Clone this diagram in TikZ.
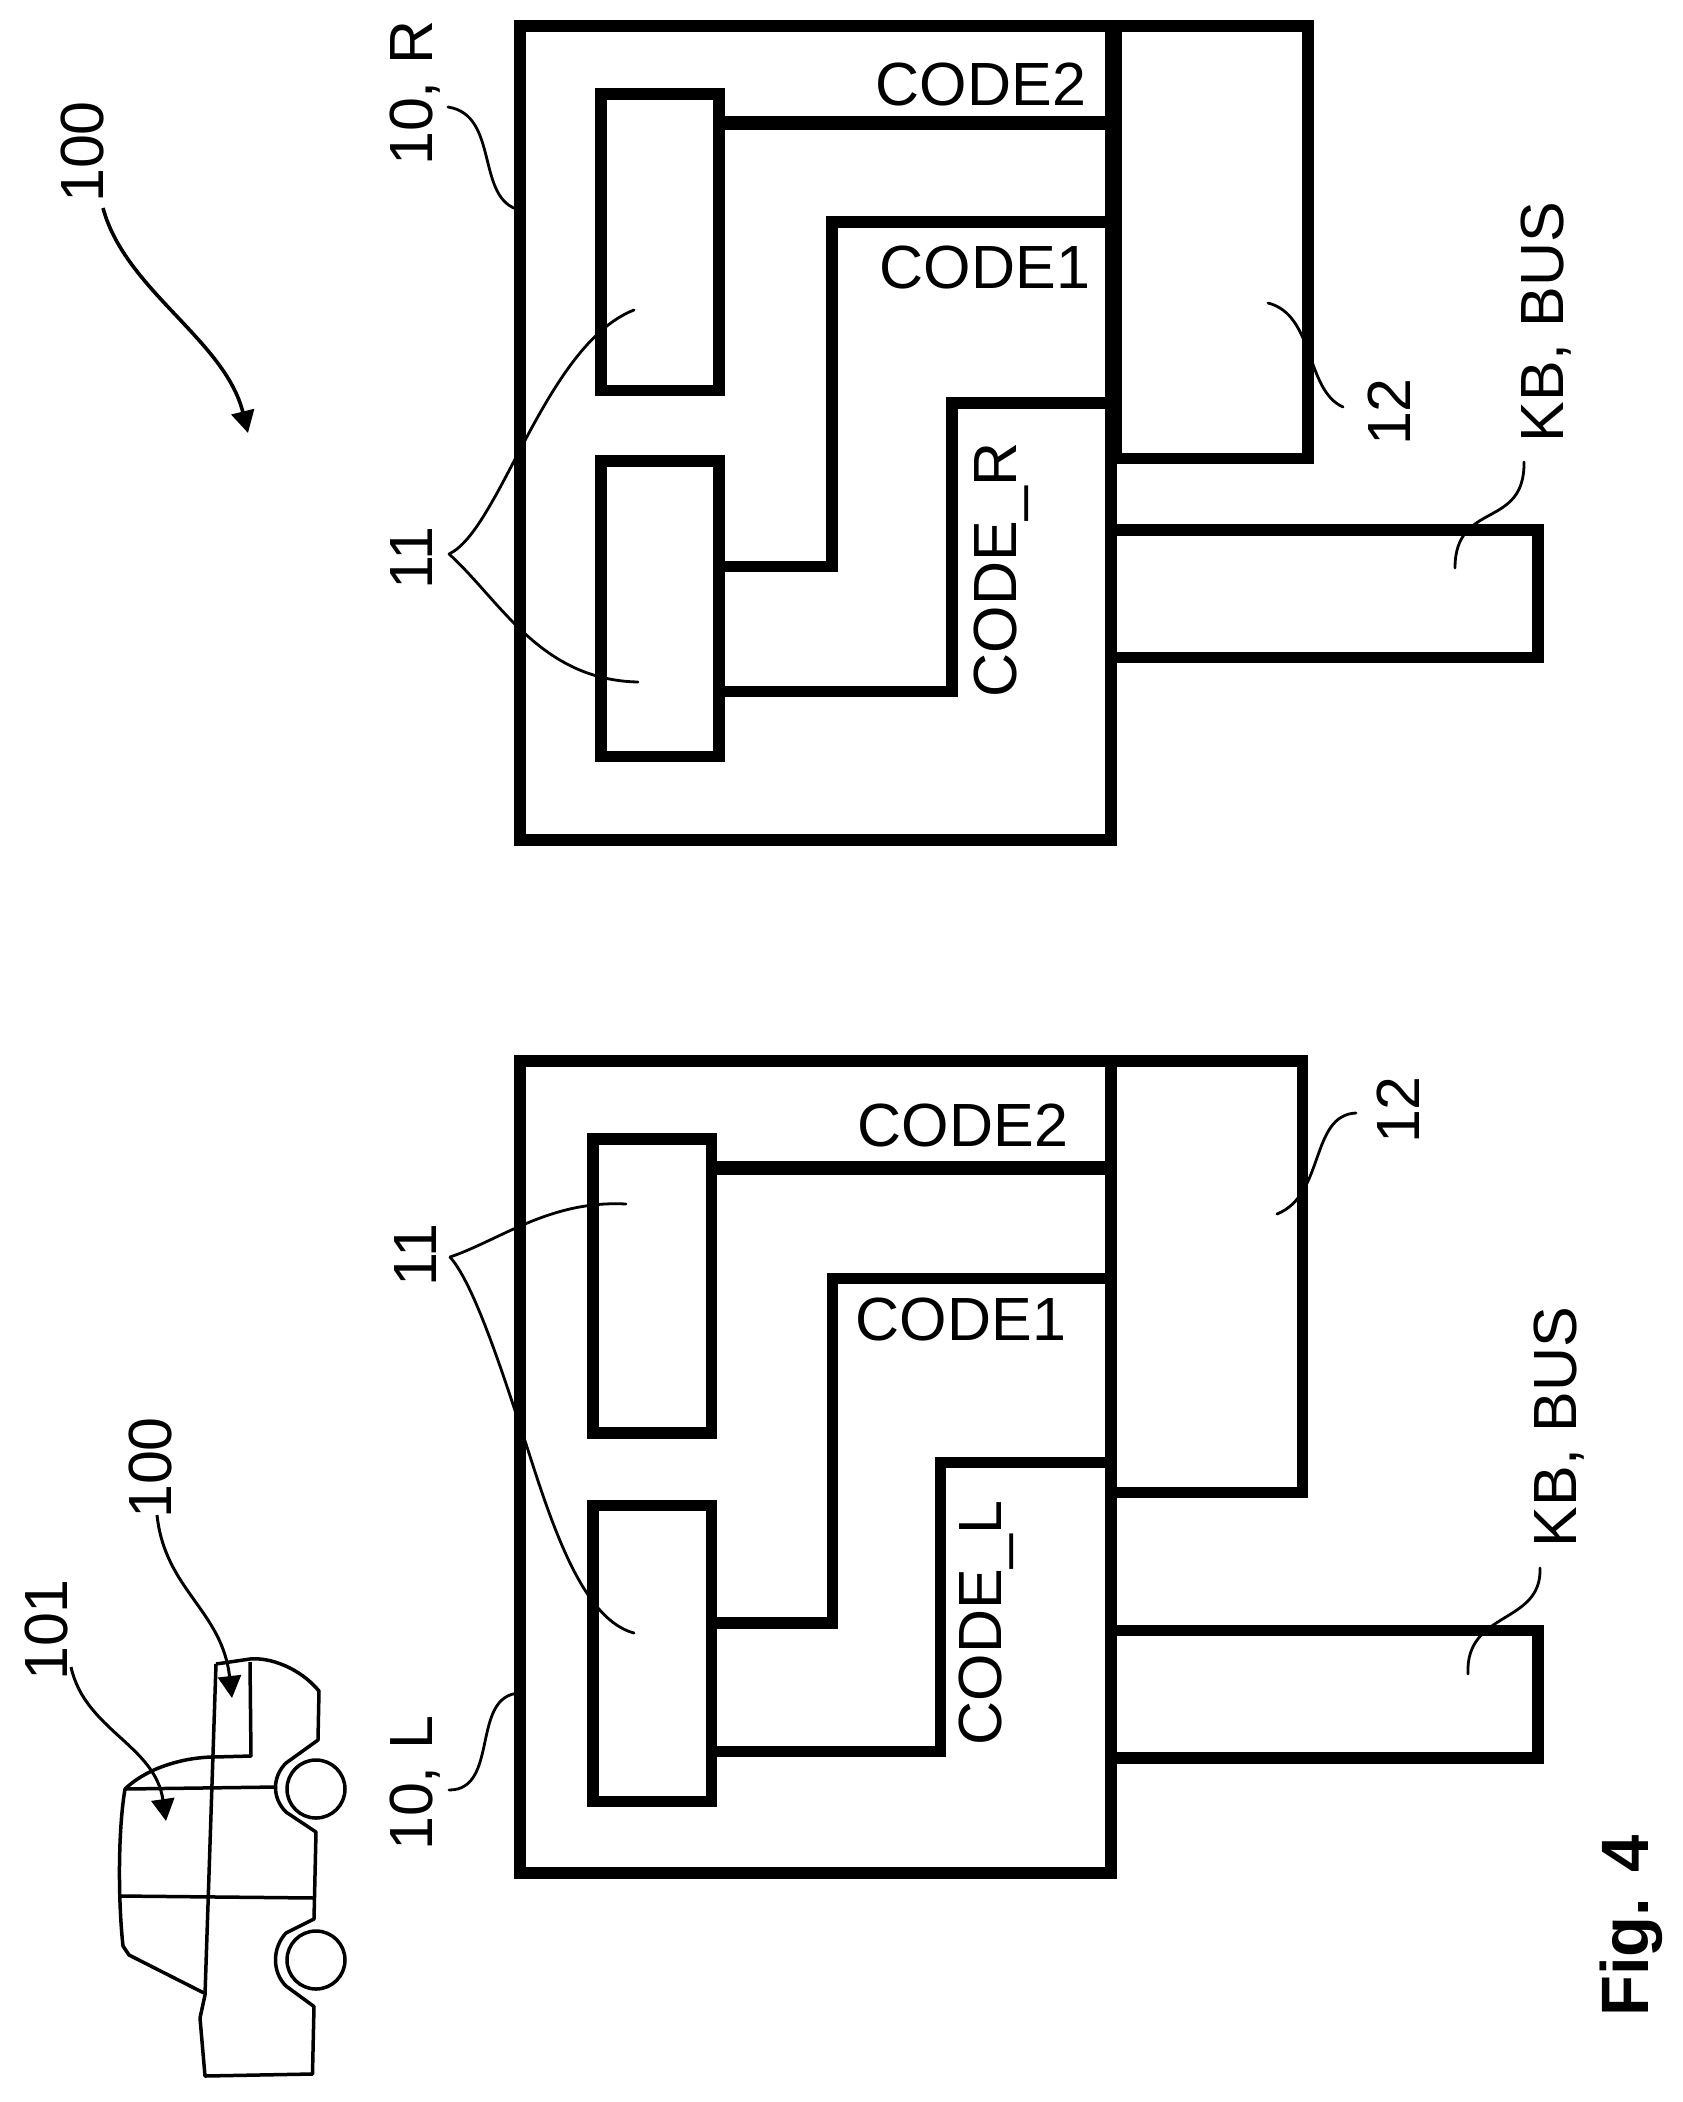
\documentclass[tikz,border=0pt]{standalone}
\usepackage{fontspec}
\setmainfont{Liberation Sans}
\usetikzlibrary{arrows.meta}
\tikzset{
  unitbox/.style={draw=black,line width=11.5pt,rectangle,inner sep=0pt,outer sep=0pt},
  wire/.style={draw=black,line width=11.5pt},
  wirethick/.style={draw=black,line width=14pt},
  leader/.style={draw=black,line width=2.8pt,line cap=round},
  pointer/.style={draw=black,line width=3.6pt,-{Triangle[length=22pt,width=23pt]}},
  carline/.style={draw=black,line width=3.5pt,line join=round},
  wheel/.style={draw=black,line width=3.5pt,circle,minimum size=58pt,inner sep=0pt},
  txt/.style={font=\fontsize{61}{70}\selectfont,inner sep=0pt,anchor=base},
  rot/.style={txt,rotate=90},
  figlab/.style={font=\fontsize{67}{80}\selectfont\bfseries,inner sep=0pt,anchor=base,rotate=90}
}
\begin{document}
\begin{tikzpicture}[x=1pt,y=-1pt]
\useasboundingbox (0,0) rectangle (1683,2102);
% right unit
\node[unitbox,minimum width=591pt,minimum height=814pt] (rmain) at (815.5,433) {};
\node[unitbox,minimum width=192pt,minimum height=432.5pt] (rmem) at (1212,242.25) {};
\node[unitbox,minimum width=427pt,minimum height=127.5pt] (rkb) at (1324.5,593.75) {};
\node[unitbox,minimum width=118pt,minimum height=296.5pt] (rtop) at (660,242.25) {};
\node[unitbox,minimum width=118pt,minimum height=295.5pt] (rbot) at (660,608.75) {};
\draw[wirethick] (rtop.east |- 0,123) -- (rmain.east |- 0,123);
\draw[wire] (rbot.east |- 0,566.5) -- (832,566.5) -- (832,222) -- (rmain.east |- 0,222);
\draw[wire] (rbot.east |- 0,691.5) -- (952,691.5) -- (952,403) -- (rmain.east |- 0,403);
% left unit
\node[unitbox,minimum width=591pt,minimum height=812pt] (lmain) at (815.5,1467) {};
\node[unitbox,minimum width=191pt,minimum height=431.5pt] (lmem) at (1207,1276.75) {};
\node[unitbox,minimum width=427pt,minimum height=127.5pt] (lkb) at (1324.5,1694.25) {};
\node[unitbox,minimum width=118.5pt,minimum height=294pt] (ltop) at (652.25,1286) {};
\node[unitbox,minimum width=118.5pt,minimum height=296pt] (lbot) at (652.25,1653.5) {};
\draw[wirethick] (ltop.east |- 0,1168) -- (lmain.east |- 0,1168);
\draw[wire] (lbot.east |- 0,1623) -- (832.5,1623) -- (832.5,1278.5) -- (lmain.east |- 0,1278.5);
\draw[wire] (lbot.east |- 0,1751.5) -- (940.5,1751.5) -- (940.5,1462.5) -- (lmain.east |- 0,1462.5);
% texts
\node[txt] (rc2) at (981,105) {CODE2};
\node[txt] (rc1) at (985,288) {CODE1};
\node[rot] (rcr) at (1016,570) {CODE\_R};
\node[rot] (rbus) at (1563,322) {KB, BUS};
\node[rot] (rten) at (432,93) {10, R};
\node[rot] (rel) at (432,558) {11};
\node[rot] (rtw) at (1410,412) {12};
\node[txt] (lc2) at (963,1146) {CODE2};
\node[txt] (lc1) at (961,1340) {CODE1};
\node[rot] (lcl) at (1001,1623) {CODE\_L};
\node[rot] (lbus) at (1576,1427) {KB, BUS};
\node[rot] (lten) at (432,1783) {10, L};
\node[rot] (lel) at (436,1255) {11};
\node[rot] (ltw) at (1419,1110) {12};
\node[rot] (sys) at (103,152) {100};
\node[rot] (csys) at (171,1468) {100};
\node[rot] (cveh) at (67,1630) {101};
\node[figlab] (fig) at (1648,1926) {Fig. 4};
% leader ends
\coordinate (a1) at (448,107); \coordinate (a2) at (rmain.west |- 0,210);
\coordinate (b1) at (449,1790); \coordinate (b2) at (lmain.west |- 0,1693);
\coordinate (c0) at (449,554); \coordinate (c1) at (634,310); \coordinate (c2) at (638,682);
\coordinate (d0) at (450,1257); \coordinate (d1) at (626,1204); \coordinate (dm) at (528,1450); \coordinate (d2) at (634,1633);
\coordinate (e1) at (1343,407); \coordinate (e2) at (1268,303);
\coordinate (f1) at (1356,1113); \coordinate (f2) at (1277,1214);
\coordinate (g1) at (1524,462); \coordinate (g2) at (1455,568);
\coordinate (h1) at (1540,1568); \coordinate (h2) at (1468,1674);
\coordinate (p1) at (103,208); \coordinate (p2) at (248,433);
\coordinate (q1) at (157,1515); \coordinate (q2) at (232,1698);
\coordinate (s1) at (71,1667); \coordinate (s2) at (166,1821);
\draw[leader] (a1) .. controls (500,115) and (475,200) .. (a2);
\draw[leader] (b1) .. controls (500,1790) and (470,1695) .. (b2);
\draw[leader] (c0) .. controls (500,530) and (545,345) .. (c1);
\draw[leader] (c0) .. controls (500,600) and (540,680) .. (c2);
\draw[leader] (d0) .. controls (500,1240) and (550,1200) .. (d1);
\draw[leader] (d0) .. controls (475,1285) and (505,1380) .. (dm) .. controls (555,1535) and (585,1620) .. (d2);
\draw[leader] (e1) .. controls (1305,390) and (1315,315) .. (e2);
\draw[leader] (f1) .. controls (1310,1115) and (1325,1195) .. (f2);
\draw[leader] (g1) .. controls (1525,530) and (1455,500) .. (g2);
\draw[leader] (h1) .. controls (1542,1625) and (1465,1610) .. (h2);
\draw[pointer] (p1) .. controls (125,290) and (225,340) .. (p2);
\draw[pointer,line width=3pt] (q1) .. controls (165,1590) and (222,1610) .. (q2);
\draw[pointer,line width=3pt] (s1) .. controls (85,1730) and (155,1745) .. (s2);
% car
\draw[carline] (216,1664) -- (205,1995) -- (200,2018) -- (205,2076) -- (312.5,2074) -- (314,2006.5)
  -- (286,1986) .. controls (272,1972) and (272,1948) .. (286,1933)
  -- (314,1919) -- (316,1832) -- (286,1812) .. controls (272,1798) and (272,1777) .. (286,1763)
  -- (318,1740) -- (319,1691) .. controls (300,1668) and (270,1657) .. (250,1659) -- (216,1664);
\draw[carline] (250,1662) -- (251,1756) -- (214,1757) .. controls (190,1757) and (150,1765) .. (125,1789)
  .. controls (118,1830) and (118,1900) .. (123,1946) -- (129,1955) -- (204,1993);
\draw[carline] (125,1789) -- (277,1787);
\draw[carline] (120,1896) -- (315,1898);
\node[wheel] (wf) at (316,1789) {};
\node[wheel] (wr) at (316,1960) {};
\end{tikzpicture}
\end{document}
